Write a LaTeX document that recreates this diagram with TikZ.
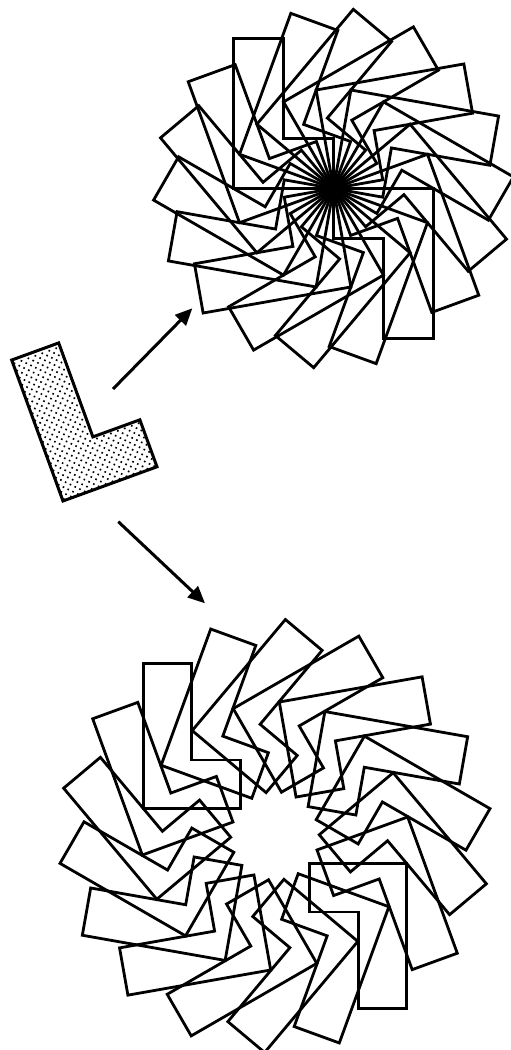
\documentclass[tikz,border=0pt]{standalone}
\usetikzlibrary{arrows.meta}
\begin{document}
\begin{tikzpicture}[x=1pt,y=1pt,
  rosetteline/.style={line width=2.8pt, line join=miter},
  shapeline/.style={line width=3pt, line join=miter},
  dotmark/.style={fill=black},
  arrowline/.style={line width=3pt, -{Triangle[length=17pt,width=15pt]}}]
\useasboundingbox (0,0) rectangle (511,1050);

% the original L, shaded with dots
\begin{scope}[shift={(63,549)}, rotate=20]
  \begin{scope}
    \clip (0,0) -- (100,0) -- (100,50) -- (50,50) -- (50,150) -- (0,150) -- cycle;
    \foreach \j in {0,...,40}{
      \foreach \i in {0,...,14}{
        \fill[dotmark] ({\i*7.4+mod(\j,2)*3.7+1.5},{\j*3.8+1.5}) circle[radius=1.15];
      }
    }
  \end{scope}
  \draw[shapeline] (0,0) -- (100,0) -- (100,50) -- (50,50) -- (50,150)
    -- (0,150) -- cycle;
\end{scope}

% top rosette: L turned about its outer foot corner
\coordinate (topc) at (333.5,861.5);
\foreach \k in {0,...,17}{
  \begin{scope}[shift={(topc)}, rotate=20*\k]
    \draw[rosetteline] (-100,0) -- (0,0) -- (0,50) -- (-50,50) -- (-50,150)
      -- (-100,150) -- cycle;
  \end{scope}
}

% bottom rosette: L turned about a point outside it
\coordinate (botc) at (275,214);
\foreach \k in {0,...,17}{
  \begin{scope}[shift={(botc)}, rotate=20*\k]
    \draw[rosetteline] (-131.2,27.5) -- (-34.7,27.5) -- (-34.7,76) -- (-83.2,76)
      -- (-83.2,172.5) -- (-131.2,172.5) -- cycle;
  \end{scope}
}

% arrows
\coordinate (a1s) at (113,661);
\coordinate (a1e) at (192.3,741.7);
\coordinate (a2s) at (118.3,528.3);
\coordinate (a2e) at (205,446.7);
\draw[arrowline] (a1s) -- (a1e);
\draw[arrowline] (a2s) -- (a2e);
\end{tikzpicture}
\end{document}
